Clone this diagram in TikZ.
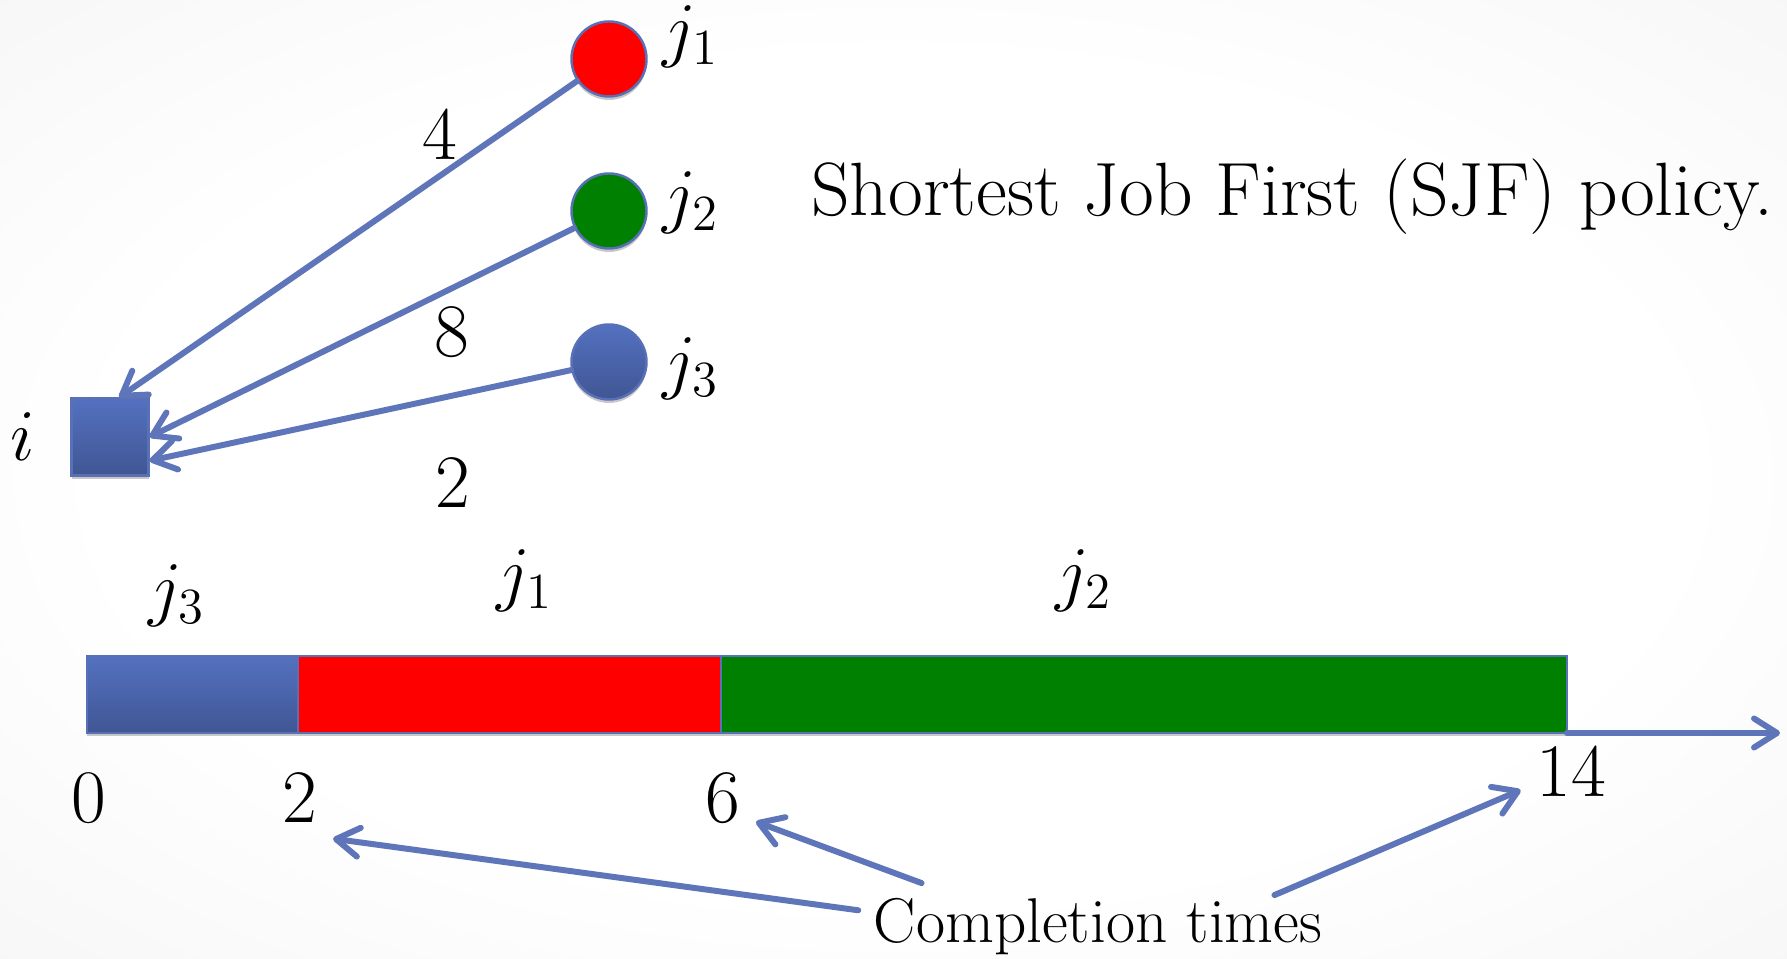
\documentclass[tikz,border=0pt]{standalone}
\usepackage{fontspec}
\usetikzlibrary{arrows.meta,positioning,shadows}

\definecolor{connblue}{RGB}{94,117,186}
\definecolor{edgeblue}{RGB}{88,112,182}
\definecolor{bluetop}{RGB}{84,113,192}
\definecolor{bluebot}{RGB}{64,86,148}
\definecolor{jobgreen}{RGB}{0,128,0}

\pgfdeclareradialshading{slidebg}{\pgfpoint{0bp}{0bp}}{color(0bp)=(white); color(22bp)=(white); color(71bp)=(black!11)}

\tikzset{
  conn/.style={draw=connblue, line width=1.7pt, line cap=round, line join=round,
    -{Straight Barb[length=2.3mm, width=2.9mm, line cap=round, line join=round]}},
  softshadow/.style={drop shadow={shadow xshift=0pt, shadow yshift=-0.035cm, opacity=0.3, fill=black!70}},
  job/.style={circle, draw=edgeblue, line width=0.7pt, minimum size=0.75cm, inner sep=0pt, softshadow},
  seg/.style={rectangle, draw=edgeblue, line width=0.6pt, minimum height=0.77cm, inner sep=0pt, outer sep=0pt, softshadow},
  lbl/.style={inner sep=0pt, font=\fontsize{21.5}{26}\selectfont},
  tick/.style={inner sep=0.15cm, font=\fontsize{21.5}{26}\selectfont, anchor=base},
}

\begin{document}
\begin{tikzpicture}
    \useasboundingbox (0,0) rectangle (17.87,9.59);
    \shade[shading=slidebg] (0,0) rectangle (17.87,9.59);

    % Machine and jobs
    \node[rectangle, draw=edgeblue, line width=0.6pt, top color=bluetop, bottom color=bluebot,
          minimum size=0.77cm, inner sep=0pt, softshadow] (i) at (1.10,5.22) {};
    \node[job, fill=red] (j1) at (6.09,9.00) {};
    \node[job, fill=jobgreen] (j2) at (6.09,7.48) {};
    \node[job, top color=bluetop, bottom color=bluebot] (j3) at (6.09,5.97) {};

    \node[lbl, anchor=base] (ilbl) at (0.23,4.98) {$i$};
    \node[lbl, anchor=base west] (j1lbl) at (6.62,9.05) {$j_1$};
    \node[lbl, anchor=base west] (j2lbl) at (6.62,7.39) {$j_2$};
    \node[lbl, anchor=base west] (j3lbl) at (6.62,5.73) {$j_3$};

    % Edges with processing times
    \draw[conn] (j1) -- (i.77);
    \draw[conn] (j2) -- (i.east);
    \draw[conn] (j3) -- (i.-31);
    \node[lbl, anchor=base] (w1) at (4.40,7.99) {4};
    \node[lbl, anchor=base] (w2) at (4.52,6.02) {8};
    \node[lbl, anchor=base] (w3) at (4.53,4.51) {2};

    \node[lbl, anchor=base] (title) at (12.92,7.43) {Shortest Job First (SJF) policy.};

    % Schedule
    \node[seg, anchor=south west, minimum width=2.114cm, top color=bluetop, bottom color=bluebot] (s3) at (0.87,2.26) {};
    \node[seg, right=0pt of s3, minimum width=4.228cm, fill=red] (s1) {};
    \node[seg, right=0pt of s1, minimum width=8.457cm, fill=jobgreen] (s2) {};
    \coordinate (axisend) at (17.80,2.26);
    \draw[conn] (s2.south east) -- (axisend);

    \node[lbl, anchor=base] (s3lbl) at (1.77,3.46) {$j_3$};
    \node[lbl, anchor=base] (s1lbl) at (5.25,3.61) {$j_1$};
    \node[lbl, anchor=base] (s2lbl) at (10.84,3.61) {$j_2$};

    \node[tick] (t0) at (0.89,1.36) {0};
    \node[tick] (t2) at (3.00,1.36) {2};
    \node[tick] (t6) at (7.23,1.36) {6};
    \node[tick] (t14) at (15.71,1.62) {14};

    % Completion times
    \node[tick, font=\fontsize{18}{22}\selectfont] (ct) at (10.98,0.16) {Completion times};
    \draw[conn] (ct.176) -- (t2.south east);
    \draw[conn] (ct.166) -- (t6.-35);
    \draw[conn] ([yshift=-0.12cm]ct.14) -- (t14.200);
\end{tikzpicture}
\end{document}
